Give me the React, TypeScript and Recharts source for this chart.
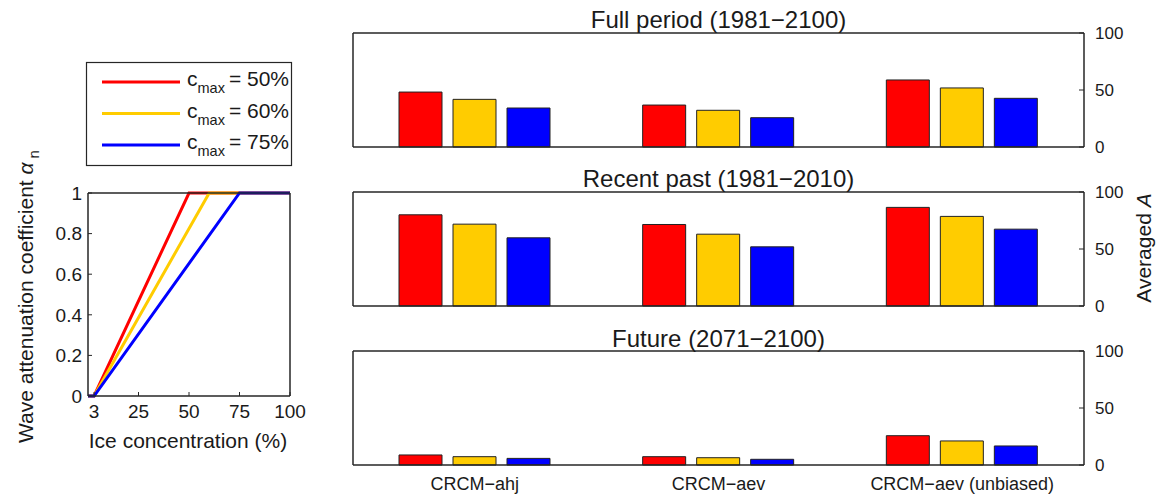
import React from 'react';
import { BarChart, Bar, LineChart, Line, XAxis, YAxis } from 'recharts';

const FONT = '"Liberation Sans", Arial, Helvetica, sans-serif';
const AXIS = '#262626';
const TXT = '#1a1a1a';

// ---- Bar data ----
const categories = ['CRCM\u2212ahj', 'CRCM\u2212aev', 'CRCM\u2212aev (unbiased)'];
const seriesLabels = ['c50', 'c60', 'c75'];
const seriesColors = ['#FF0000', '#FFCC00', '#0000FF'];

const fullPeriod50 = [48.2, 36.8, 58.8];
const fullPeriod60 = [41.8, 32.2, 51.8];
const fullPeriod75 = [34.2, 25.7, 42.7];

const recentPast50 = [80.0, 71.5, 86.5];
const recentPast60 = [71.8, 63.0, 78.6];
const recentPast75 = [59.8, 51.9, 67.4];

const future50 = [8.8, 7.3, 25.7];
const future60 = [7.3, 6.4, 21.1];
const future75 = [5.8, 5.0, 16.7];

const barTicks = [0, 50, 100];

// ---- Line data (wave attenuation coefficient vs ice concentration) ----
const alphaCmax50 = [
  { x: 0, y: 0 },
  { x: 3, y: 0 },
  { x: 50, y: 1 },
  { x: 100, y: 1 },
];
const alphaCmax60 = [
  { x: 0, y: 0 },
  { x: 3, y: 0 },
  { x: 60, y: 1 },
  { x: 100, y: 1 },
];
const alphaCmax75 = [
  { x: 0, y: 0 },
  { x: 3, y: 0 },
  { x: 75, y: 1 },
  { x: 100, y: 1 },
];
const lineXTicks = [3, 25, 50, 75, 100];
const lineYTicks = [0, 0.2, 0.4, 0.6, 0.8, 1];
const legendLabels = ['50%', '60%', '75%'];

function buildRows(a: number[], b: number[], c: number[]) {
  return categories.map((name, i) => ({ name, c50: a[i], c60: b[i], c75: c[i] }));
}

const panels = [
  { title: 'Full period (1981\u22122100)', rows: buildRows(fullPeriod50, fullPeriod60, fullPeriod75) },
  { title: 'Recent past (1981\u22122010)', rows: buildRows(recentPast50, recentPast60, recentPast75) },
  { title: 'Future (2071\u22122100)', rows: buildRows(future50, future60, future75) },
];

type PanelProps = {
  rows: any[];
  top: number;
  height: number;
  marginTop: number;
  marginBottom: number;
  showLabels: boolean;
  xHeight: number;
};

function BarPanel({ rows, top, height, marginTop, marginBottom, showLabels, xHeight }: PanelProps) {
  return (
    <div style={{ position: 'absolute', left: 0, top }}>
      <BarChart
        width={1157}
        height={height}
        data={rows}
        margin={{ top: marginTop, left: 352, right: 0, bottom: marginBottom }}
        barSize={43}
        barGap={11}
      >
        <XAxis
          xAxisId="bottom"
          dataKey="name"
          orientation="bottom"
          height={xHeight}
          tickLine={false}
          tick={showLabels ? { fontSize: 18, fill: TXT, fontFamily: FONT } : false}
          tickMargin={6}
          axisLine={{ stroke: AXIS, strokeWidth: 1.5 }}
          interval={0}
        />
        <XAxis
          xAxisId="top"
          dataKey="name"
          orientation="top"
          height={1}
          tick={false}
          tickSize={-5}
          tickLine={{ stroke: AXIS }}
          axisLine={{ stroke: AXIS, strokeWidth: 1.5 }}
          interval={0}
        />
        <YAxis
          yAxisId="left"
          orientation="left"
          width={1}
          domain={[0, 100]}
          ticks={barTicks}
          tick={false}
          tickSize={-5}
          tickLine={{ stroke: AXIS }}
          axisLine={{ stroke: AXIS, strokeWidth: 1.5 }}
        />
        <YAxis
          yAxisId="right"
          orientation="right"
          width={73}
          domain={[0, 100]}
          ticks={barTicks}
          tickSize={-5}
          tickMargin={16}
          tickLine={{ stroke: AXIS }}
          axisLine={{ stroke: AXIS, strokeWidth: 1.5 }}
          tick={{ fontSize: 17, fill: TXT, fontFamily: FONT }}
        />
        {seriesLabels.map((k, i) => (
          <Bar
            key={k}
            dataKey={k}
            xAxisId="bottom"
            yAxisId="right"
            fill={seriesColors[i]}
            stroke="#222"
            strokeWidth={1}
            isAnimationActive={false}
          />
        ))}
      </BarChart>
    </div>
  );
}

function LinePanel() {
  const lines = [alphaCmax50, alphaCmax60, alphaCmax75];
  return (
    <div style={{ position: 'absolute', left: 0, top: 180 }}>
      <LineChart width={310} height={246} margin={{ top: 12, left: 0, right: 19, bottom: 0 }}>
        <XAxis
          xAxisId="b"
          type="number"
          dataKey="x"
          domain={[0, 100]}
          ticks={lineXTicks}
          orientation="bottom"
          height={30}
          tickSize={-4}
          tickMargin={13}
          tickLine={{ stroke: AXIS }}
          axisLine={{ stroke: AXIS, strokeWidth: 1.5 }}
          tick={{ fontSize: 19, fill: TXT, fontFamily: FONT }}
        />
        <XAxis
          xAxisId="t"
          type="number"
          dataKey="x"
          domain={[0, 100]}
          ticks={lineXTicks}
          orientation="top"
          height={1}
          tick={false}
          tickSize={-4}
          tickLine={{ stroke: AXIS }}
          axisLine={{ stroke: AXIS, strokeWidth: 1.5 }}
        />
        <YAxis
          yAxisId="l"
          type="number"
          domain={[0, 1]}
          ticks={lineYTicks}
          orientation="left"
          width={88}
          tickSize={-4}
          tickMargin={10}
          tickLine={{ stroke: AXIS }}
          axisLine={{ stroke: AXIS, strokeWidth: 1.5 }}
          tick={{ fontSize: 19, fill: TXT, fontFamily: FONT }}
        />
        <YAxis
          yAxisId="r"
          type="number"
          domain={[0, 1]}
          ticks={lineYTicks}
          orientation="right"
          width={1}
          tick={false}
          tickSize={-4}
          tickLine={{ stroke: AXIS }}
          axisLine={{ stroke: AXIS, strokeWidth: 1.5 }}
        />
        {lines.map((d, i) => (
          <Line
            key={i}
            data={d}
            dataKey="y"
            xAxisId="b"
            yAxisId="l"
            type="linear"
            stroke={seriesColors[i]}
            strokeWidth={3}
            dot={false}
            isAnimationActive={false}
          />
        ))}
      </LineChart>
    </div>
  );
}

function Overlay() {
  const titleX = (353 + 1084) / 2;
  const titleBaselines = [28, 187, 347];
  const legendRows = [82, 113.5, 145];
  return (
    <svg
      width={1157}
      height={496}
      style={{ position: 'absolute', left: 0, top: 0, pointerEvents: 'none', overflow: 'visible' }}
      fontFamily={FONT}
    >
      {panels.map((p, i) => (
        <text key={i} x={titleX} y={titleBaselines[i]} textAnchor="middle" fontSize={24} fill={TXT}>
          {p.title}
        </text>
      ))}
      {/* legend */}
      <rect x={86.5} y={62.5} width={205} height={103} fill="#fff" stroke={AXIS} strokeWidth={1.2} />
      {legendRows.map((y, i) => (
        <g key={i}>
          <line x1={102} x2={180} y1={y} y2={y} stroke={seriesColors[i]} strokeWidth={3} />
          <text x={187} y={y + 4} fontSize={21} fill={TXT}>
            c
            <tspan fontSize={14.5} dy={7}>max</tspan>
            <tspan dy={-7} dx={4}>= {legendLabels[i]}</tspan>
          </text>
        </g>
      ))}
      {/* left y label */}
      <text transform="translate(33,443) rotate(-90)" fontSize={21} fill={TXT}>
        Wave attenuation coefficient <tspan fontStyle="italic">α</tspan>
        <tspan fontSize={15} dx={4} dy={6}>n</tspan>
      </text>
      {/* left x label */}
      <text x={188} y={448} textAnchor="middle" fontSize={21} fill={TXT}>
        Ice concentration (%)
      </text>
      {/* right label */}
      <text transform="translate(1151,248) rotate(-90)" textAnchor="middle" fontSize={21} fill={TXT}>
        Averaged <tspan fontStyle="italic">A</tspan>
      </text>
    </svg>
  );
}

export default function App() {
  return (
    <div style={{ position: 'absolute', left: 0, top: 0, width: 1157, height: 496, background: '#fff', fontFamily: FONT }}>
      <LinePanel />
      <BarPanel rows={panels[0].rows} top={0} height={157} marginTop={32} marginBottom={9} showLabels={false} xHeight={1} />
      <BarPanel rows={panels[1].rows} top={180} height={136} marginTop={11} marginBottom={9} showLabels={false} xHeight={1} />
      <BarPanel rows={panels[2].rows} top={340} height={156} marginTop={10} marginBottom={0} showLabels={true} xHeight={31} />
      <Overlay />
    </div>
  );
}
